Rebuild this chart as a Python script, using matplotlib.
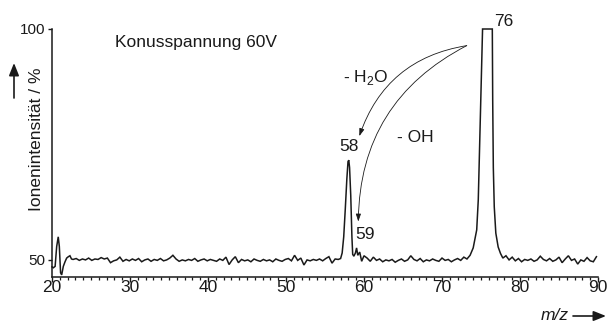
import numpy as np
import matplotlib
matplotlib.use("Agg")
import matplotlib.pyplot as plt
from matplotlib.patches import FancyArrowPatch
from matplotlib.ticker import MultipleLocator

plt.rcParams['font.family'] = ['Liberation Sans', 'DejaVu Sans']
plt.rcParams['mathtext.fontset'] = 'custom'
plt.rcParams['mathtext.rm'] = 'Liberation Sans'

# ---- data ----
# spike at low m/z
spike_mz = [20.0, 20.17, 20.4, 20.6, 20.8, 20.94, 21.1, 21.24, 21.45, 21.67, 21.88, 22.1, 22.3, 22.5]
spike_int = [48.5, 48.3, 48.6, 52.9, 55.0, 52.9, 47.2, 46.75, 48.6, 49.6, 50.4, 50.7, 50.9, 50.2]

# baseline segment A (22.7 ... 56.7, step 0.4)
baseA_start, baseA_step = 22.7, 0.4
baseA_int = [50.1, 50.3, 49.9, 50.2, 50.0, 50.4, 49.9, 50.2, 50.1, 50.5,
             50.2, 50.4, 49.4, 49.8, 50.0, 50.6, 49.7, 50.1, 49.8, 50.2,
             49.9, 50.3, 49.6, 50.0, 50.2, 49.7, 50.1, 49.9, 50.3, 49.8,
             50.0, 50.4, 51.0, 50.2, 49.7, 50.0, 49.8, 50.1, 49.9, 50.3,
             49.7, 50.0, 50.2, 49.8, 50.1, 49.9, 49.7, 50.2, 49.9, 50.6,
             49.0, 50.0, 50.7, 49.4, 50.1, 49.8, 50.0, 49.6, 50.2, 49.9,
             49.7, 50.1, 49.8, 50.0, 49.6, 50.2, 49.9, 49.7, 50.1, 50.3,
             49.8, 51.0, 49.9, 50.4, 48.9, 50.0, 49.8, 50.1, 49.9, 50.2,
             49.8, 50.3, 50.7, 49.3, 50.2, 50.1]

# peaks at m/z 58 and 59
peak58_mz = [57.0, 57.2, 57.4, 57.6, 57.8, 57.95, 58.05, 58.15, 58.3, 58.45, 58.55,
             58.7, 58.9, 59.05, 59.2, 59.45, 59.7, 60.0]
peak58_int = [50.3, 51.5, 55.0, 61.0, 67.5, 71.3, 71.6, 70.0, 64.0, 55.0, 51.2,
              50.8, 51.5, 52.6, 51.0, 51.7, 49.7, 50.9]

# baseline segment B (60.4 ... 73.6, step 0.4)
baseB_start, baseB_step = 60.4, 0.4
baseB_int = [50.4, 49.7, 50.6, 49.9, 50.2, 49.6, 50.0, 49.8, 50.1, 49.5,
             49.9, 50.2, 49.7, 50.0, 50.9, 50.1, 49.8, 50.3, 49.6, 50.0,
             49.8, 50.2, 49.9, 49.7, 50.4, 49.9, 50.1, 49.6, 50.0, 50.3,
             49.9, 50.6, 50.2, 51.0]

# peak at m/z 76 (saturated)
peak76_mz = [74.0, 74.45, 74.65, 74.87, 75.09, 75.2, 76.45, 76.5, 76.58, 76.7, 76.9, 77.2, 77.5]
peak76_int = [52.6, 56.5, 63.0, 77.5, 91.8, 100.0, 100.0, 84.6, 70.0, 61.5, 55.8, 52.8, 51.4]

# baseline segment C (77.8 ... 89.8, step 0.4)
baseC_start, baseC_step = 77.8, 0.4
baseC_int = [50.4, 50.9, 50.0, 50.6, 49.8, 50.3, 49.6, 50.1, 49.9, 50.2,
             49.7, 50.0, 50.8, 50.1, 49.8, 50.3, 49.7, 50.0, 50.6, 49.4,
             50.2, 50.9, 49.9, 50.2, 49.1, 50.0, 49.7, 50.5, 49.8, 49.6,
             50.7]

x_ticks = [20, 30, 40, 50, 60, 70, 80, 90]
y_ticks = [50, 100]

def seg(start, step, vals):
    return list(np.round(start + step * np.arange(len(vals)), 3))

mz = (spike_mz + seg(baseA_start, baseA_step, baseA_int) + peak58_mz
      + seg(baseB_start, baseB_step, baseB_int) + peak76_mz
      + seg(baseC_start, baseC_step, baseC_int))
inten = spike_int + baseA_int + peak58_int + baseB_int + peak76_int + baseC_int

# ---- figure ----
fig = plt.figure(figsize=(6.07, 3.22), dpi=100)
ax = fig.add_axes([52/607, 1-277/322, (598-52)/607, (277-29)/322])

ax.plot(mz, inten, color='#1a1a1a', lw=1.1, clip_on=False, solid_joinstyle='miter')

ax.set_xlim(20, 90)
ax.set_ylim(46.3, 100)
ax.set_xticks(x_ticks)
ax.xaxis.set_minor_locator(MultipleLocator(1))
ax.set_yticks(y_ticks)
for s in ['top', 'right']:
    ax.spines[s].set_visible(False)
for s in ['left', 'bottom']:
    ax.spines[s].set_linewidth(1.1)
    ax.spines[s].set_color('#1a1a1a')
ax.tick_params(axis='x', which='major', length=3.5, width=1.0, pad=-1.0, labelsize=12.5, colors='#1a1a1a')
ax.tick_params(axis='x', which='minor', length=2.5, width=0.9, colors='#1a1a1a')
ax.tick_params(axis='y', which='major', length=3, width=1.0, pad=1.5, labelsize=11, colors='#1a1a1a')

# texts
ax.text(28.1, 97, 'Konusspannung 60V', fontsize=12.5, va='center', ha='left', color='#1a1a1a')
ax.text(57.3, 89.6, r'- H$_\mathregular{2}$O', fontsize=12.5, va='center', ha='left', color='#1a1a1a')
ax.text(64.2, 76.4, '- OH', fontsize=12.5, va='center', ha='left', color='#1a1a1a')
ax.text(58.1, 74.5, '58', fontsize=12.5, va='center', ha='center', color='#1a1a1a')
ax.text(58.85, 55.4, '59', fontsize=12.5, va='center', ha='left', color='#1a1a1a')
ax.text(76.7, 101.6, '76', fontsize=12.5, va='center', ha='left', color='#1a1a1a', clip_on=False)

# curved arrows
for end, rad in [((59.4, 76.8), 0.3), ((59.27, 58.3), 0.3)]:
    arr = FancyArrowPatch((73.17, 96.4), end, connectionstyle=f'arc3,rad={rad}',
                          arrowstyle='-|>,head_length=0.45,head_width=0.15',
                          mutation_scale=10, lw=0.6, color='#1a1a1a',
                          shrinkA=0, shrinkB=0)
    ax.add_patch(arr)

# axis labels
fig.text(36.5/607, 1-139/322, 'Ionenintensität / %', rotation=90, fontsize=12.5,
         ha='center', va='center', color='#1a1a1a')
fig.text(540.7/607, 1-316/322, 'm/z', style='italic', fontsize=12.5,
         ha='left', va='center', color='#1a1a1a')
fig.patches.append(FancyArrowPatch((14/607, 1-98/322), (14/607, 1-63/322),
                                   transform=fig.transFigure, arrowstyle='-|>,head_length=0.75,head_width=0.3',
                                   mutation_scale=10, lw=1.2, color='#1a1a1a', shrinkA=0, shrinkB=0))
fig.patches.append(FancyArrowPatch((573/607, 1-316/322), (606/607, 1-316/322),
                                   transform=fig.transFigure, arrowstyle='-|>,head_length=0.75,head_width=0.3',
                                   mutation_scale=10, lw=1.2, color='#1a1a1a', shrinkA=0, shrinkB=0))

fig.savefig('out.png', dpi=100)
